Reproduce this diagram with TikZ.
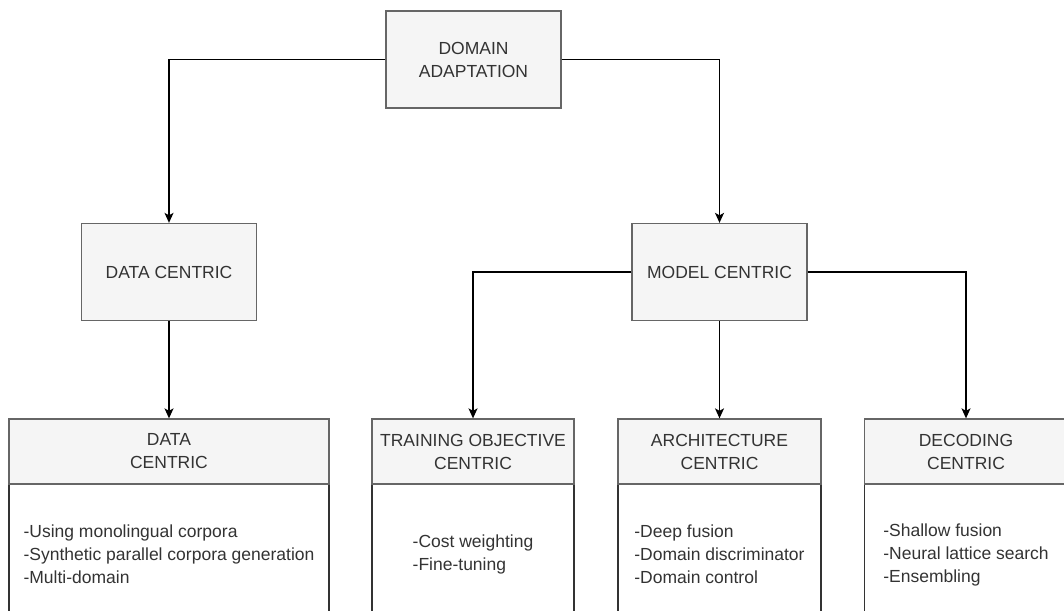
\documentclass[tikz,border=0pt]{standalone}
\usepackage{fontspec}
\setmainfont{Liberation Sans}
\usetikzlibrary{arrows.meta}
\definecolor{boxfill}{HTML}{F5F5F5}
\definecolor{boxline}{HTML}{666666}
\definecolor{bodyline}{HTML}{333333}
\definecolor{txt}{HTML}{333333}
\begin{document}
\begin{tikzpicture}[x=1pt,y=-1pt,
  every node/.style={font=\fontsize{17.5}{23}\selectfont, text=txt},
  catbox/.style={draw=boxline, fill=boxfill, line width=1.3pt,
    minimum width=175pt, minimum height=97pt, align=center, inner sep=0pt},
  headbox/.style={draw=boxline, fill=boxfill, line width=1.3pt,
    minimum height=65pt, align=center, inner sep=0pt},
  bodybox/.style={draw=bodyline, fill=white, line width=1.3pt,
    minimum height=140pt, inner sep=0pt, anchor=north},
  items/.style={align=left, inner sep=0pt},
  link/.style={draw=black, line width=1.3pt,
    -{Stealth[length=10pt,width=9pt,inset=2.5pt]}}
]
\clip (0,0) rectangle (1064,610);

% upper levels
\node[catbox] (root)  at (473.5,59.5) {DOMAIN\\ADAPTATION};
\node[catbox] (data)  at (169,272)    {DATA CENTRIC};
\node[catbox] (model) at (719.5,272)  {MODEL CENTRIC};

% bottom categories: body first, header drawn on top of it
\node[bodybox, minimum width=320pt] (b1) at (169,484)   {};
\node[bodybox, minimum width=202pt] (b2) at (473,484)   {};
\node[bodybox, minimum width=203pt] (b3) at (719.5,484) {};
\node[bodybox, minimum width=203pt] (b4) at (966,484)   {};

\node[headbox, minimum width=320pt] (h1) at (169,451.5)   {DATA\\CENTRIC};
\node[headbox, minimum width=202pt] (h2) at (473,451.5)   {TRAINING OBJECTIVE\\CENTRIC};
\node[headbox, minimum width=203pt] (h3) at (719.5,451.5) {ARCHITECTURE\\CENTRIC};
\node[headbox, minimum width=203pt] (h4) at (966,451.5)   {DECODING\\CENTRIC};

% item lists
\node[items] (t1) at (b1.center) {-Using monolingual corpora\\-Synthetic parallel corpora generation\\-Multi-domain};
\node[items] (t2) at (b2.center) {-Cost weighting\\-Fine-tuning};
\node[items] (t3) at (b3.center) {-Deep fusion\\-Domain discriminator\\-Domain control};
\node[items] (t4) at (b4.center) {-Shallow fusion\\-Neural lattice search\\-Ensembling};

% connectors
\draw[link] (root.west) -| (data.north);
\draw[link] (root.east) -| (model.north);
\draw[link] (data.south) -- (h1.north);
\draw[link] (model.west) -| (h2.north);
\draw[link] (model.south) -- (h3.north);
\draw[link] (model.east) -| (h4.north);
\end{tikzpicture}
\end{document}
